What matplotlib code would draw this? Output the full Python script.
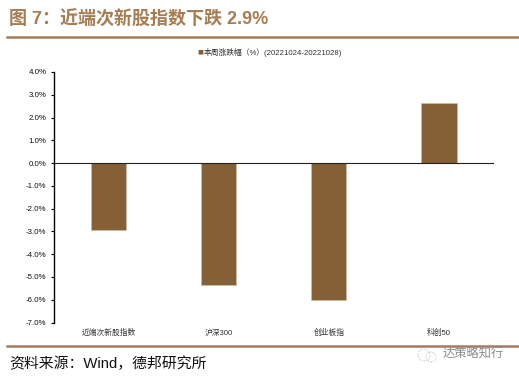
import matplotlib
matplotlib.use('Agg')
import matplotlib.pyplot as plt
from matplotlib.lines import Line2D
from matplotlib.patches import Circle

plt.rcParams['font.family'] = ['Liberation Sans', 'Noto Sans CJK SC', 'DejaVu Sans']

categories = ['近端次新股指数', '沪深300', '创业板指', '科创50']
values = [-2.95, -5.35, -6.03, 2.65]
yticks = [4, 3, 2, 1, 0, -1, -2, -3, -4, -5, -6, -7]
legend_label = '本周涨跌幅（%）(20221024-20221028)'
title = '图 7：近端次新股指数下跌 2.9%'
source = '资料来源：Wind，德邦研究所'
watermark = '达策略知行'

W, H = 519, 378
fig = plt.figure(figsize=(W/100, H/100), dpi=100, facecolor='white')
ax = fig.add_axes([53.5/W, 1-322.5/H, (494-53.5)/W, 250.5/H])
bar_c = '#855F35'
ax.bar(range(4), values, width=0.32, color=bar_c, edgecolor='#CDBDA6', linewidth=0.6, zorder=2)
ax.set_xlim(-0.5, 3.5)
ax.set_ylim(-7, 4)
ax.set_yticks(yticks)
ax.set_yticklabels([f'{v:.1f}%' for v in yticks], fontsize=5.7, color='#111111')
ax.set_xticks(range(4))
ax.set_xticklabels(categories, fontsize=5.6, color='#333333', va='baseline')
ax.tick_params(axis='y', length=2.5, width=0.8, pad=2.5, direction='out')
ax.tick_params(axis='x', length=0, pad=9)
for s in ['top', 'right', 'bottom']:
    ax.spines[s].set_visible(False)
ax.spines['left'].set_linewidth(1.0)
ax.axhline(0, color='#222222', lw=0.8, zorder=3)

def line(y):
    fig.add_artist(Line2D([7/W, 518/W], [1-y/H]*2, color='#A67C5F', lw=1.8))
line(36.5)
line(345.5)

fig.text(9/W, 1-20/H, title, fontsize=13, fontweight='bold', color='#A67C52',
         va='center', ha='left')
fig.text(203/W, 1-52/H, '■', fontsize=4.5, color=bar_c, va='center', ha='right',
         family=['DejaVu Sans'])
fig.text(203.5/W, 1-52.3/H, legend_label, fontsize=5.6, color='#333333', va='center', ha='left')
fig.text(9/W, 1-363.5/H, source, fontsize=10.7, color='#111111', va='center', ha='left')
fig.text(443/W, 1-355/H, watermark, fontsize=8.8, color='#8A8A8A', va='center', ha='left')
fig.add_artist(Circle((424/100, (H-355)/100), 0.06, transform=fig.dpi_scale_trans,
                      fill=False, ec='#AAAAAA', lw=0.6, ls=':'))
fig.add_artist(Circle((431/100, (H-357)/100), 0.05, transform=fig.dpi_scale_trans,
                      fill=False, ec='#AAAAAA', lw=0.6, ls=':'))
fig.savefig('out.png', dpi=100)
